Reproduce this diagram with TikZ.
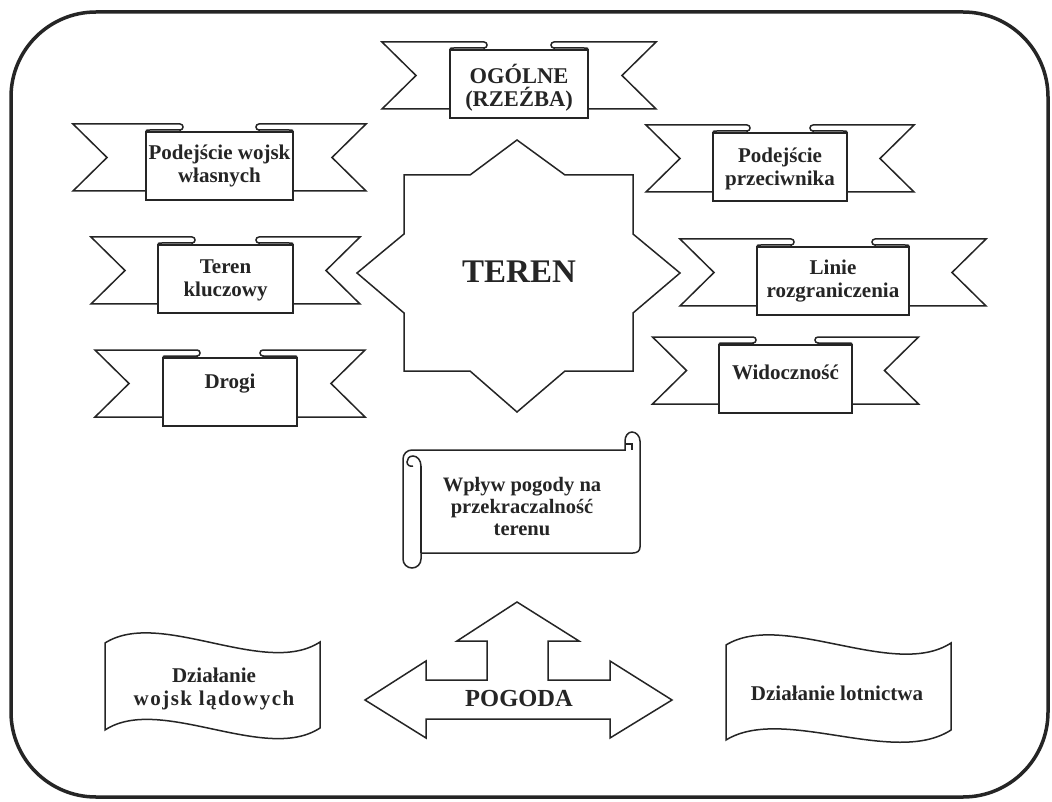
\documentclass[tikz,border=0pt]{standalone}
\usepackage{fontspec}
\setmainfont{Liberation Serif}
\definecolor{ink}{HTML}{252525}
\tikzset{
  shp/.style={draw=ink, line width=1.5pt, fill=white, line join=miter},
  thin/.style={draw=ink, line width=1.5pt},
  lbl/.style={font=\bfseries\fontsize{21}{23}\selectfont, align=center, text=ink, inner sep=0pt},
  frame/.style={draw=ink, line width=3.5pt, rounded corners=85pt},
}
% name, cx, half width, tail extension, box top, text, text centre y
\newcommand\ribbonbox[7]{%
  \pgfmathsetmacro\rbLo{#2-#3-#4}%
  \pgfmathsetmacro\rbRo{#2+#3+#4}%
  \pgfmathsetmacro\rbl{#2-#3}%
  \pgfmathsetmacro\rbr{#2+#3}%
  \pgfmathsetmacro\rbfl{#2-#3+34}%
  \pgfmathsetmacro\rbfr{#2+#3-34}%
  \pgfmathsetmacro\rbt{#5}%
  \pgfmathsetmacro\rbyt{#5-8}%
  \pgfmathsetmacro\rbyc{#5-2}%
  \pgfmathsetmacro\rbyb{#5+59}%
  \pgfmathsetmacro\rbb{#5+68}%
  \pgfmathsetmacro\rbym{#5+25.5}%
  \draw[shp] (\rbLo,\rbyt) -- (\rbfl,\rbyt) .. controls ({\rbfl+4},\rbyt) and ({\rbfl+4},\rbyc) .. (\rbfl,\rbyc)
     -- (\rbfl,\rbt) -- (\rbl,\rbt) -- (\rbl,\rbyb) -- (\rbLo,\rbyb) -- ({\rbLo+34},\rbym) -- cycle;
  \draw[shp] (\rbRo,\rbyt) -- (\rbfr,\rbyt) .. controls ({\rbfr-4},\rbyt) and ({\rbfr-4},\rbyc) .. (\rbfr,\rbyc)
     -- (\rbfr,\rbt) -- (\rbr,\rbt) -- (\rbr,\rbyb) -- (\rbRo,\rbyb) -- ({\rbRo-34},\rbym) -- cycle;
  \draw[shp] (\rbl,\rbt) rectangle (\rbr,\rbb);
  \draw[thin] (\rbl,{\rbt+1}) .. controls (\rbl,\rbyc) .. ({\rbl+4},\rbyc) -- (\rbfl,\rbyc);
  \draw[thin] (\rbr,{\rbt+1}) .. controls (\rbr,\rbyc) .. ({\rbr-4},\rbyc) -- (\rbfr,\rbyc);
  \node[lbl] (#1) at (#2,#7) {#6};
}
\begin{document}
\begin{tikzpicture}[x=1pt,y=-1pt]
\useasboundingbox (0,0) rectangle (1052,802);
\fill[white] (0,0) rectangle (1052,802);
\draw[frame] (11,12) rectangle (1048,797);

% ribbons
\ribbonbox{ogolne}{519}{69}{68}{50}{\fontsize{22.5}{25}\selectfont OGÓLNE\\\fontsize{22.5}{25}\selectfont(RZEŹBA)}{88}
\ribbonbox{wlasne}{219.5}{73.5}{73}{132}{Podejście wojsk\\własnych}{166}
\ribbonbox{przeciwnik}{780}{67}{67}{133}{Podejście\\przeciwnika}{169}
\ribbonbox{kluczowy}{225.5}{67.5}{67}{245}{Teren\\kluczowy}{280}
\ribbonbox{linie}{833}{76}{77}{247}{Linie\\rozgraniczenia}{281}
\ribbonbox{drogi}{230}{67}{68}{358}{Drogi}{384}
\ribbonbox{widocznosc}{785.5}{66.5}{66.5}{345}{Widoczność}{372}

% star
\draw[shp] (517,140) -- (565,175) -- (633,175) -- (633,234) -- (680,273) -- (633,313) -- (633,371)
  -- (565,371) -- (517,412) -- (470,371) -- (404,371) -- (404,313) -- (357,273) -- (404,234)
  -- (404,175) -- (470,175) -- cycle;
\node[lbl, font=\bfseries\fontsize{33}{36}\selectfont] (teren) at (519,272) {TEREN};

% scroll
\draw[shp] (403,459) .. controls (403,454) and (407,450) .. (412,450) -- (625,450) -- (625,441)
  .. controls (625,436) and (628,432) .. (632,432) .. controls (636,432) and (640,436) .. (640,441)
  -- (640,547) .. controls (640,551) and (637,553) .. (633,553) -- (421,553) -- (421,559)
  .. controls (421,564) and (417,568) .. (412,568) .. controls (407,568) and (403,564) .. (403,559) -- cycle;
\draw[thin] (421,466) -- (421,553);
\draw[thin] (421,466) .. controls (421,460) and (417,456) .. (413,456) .. controls (409,456) and (407,459) .. (407,462)
  .. controls (407,465) and (410,467) .. (413,466);
\draw[thin] (625,444) -- (632,444) -- (632,450);
\node[lbl, font=\bfseries\fontsize{20.5}{22}\selectfont] (wplyw) at (522,507) {Wpływ pogody na\\przekraczalność\\terenu};

% weather arrow
\draw[shp] (517,602) -- (579,641) -- (548,641) -- (548,680) -- (610,680) -- (610,661) -- (672,700)
  -- (610,738) -- (610,719) -- (426,719) -- (426,738) -- (365,700) -- (426,661) -- (426,680)
  -- (487,680) -- (487,641) -- (457,641) -- cycle;
\node[lbl, font=\bfseries\fontsize{24.5}{26}\selectfont] (pogoda) at (519,699) {POGODA};

% waves
\draw[shp] (105,643) .. controls (160,608) and (265,678) .. (320,642) -- (320,728)
  .. controls (265,764) and (160,694) .. (105,730) -- cycle;
\node[lbl] (ladowe) at (214,689) {Działanie\\{\addfontfeature{LetterSpace=7}wojsk lądowych}};
\draw[shp] (726,645) .. controls (783,610) and (894,680) .. (951,643) -- (951,730)
  .. controls (894,767) and (783,705) .. (726,740) -- cycle;
\node[lbl] (lotnictwo) at (837,693) {Działanie lotnictwa};
\end{tikzpicture}
\end{document}
